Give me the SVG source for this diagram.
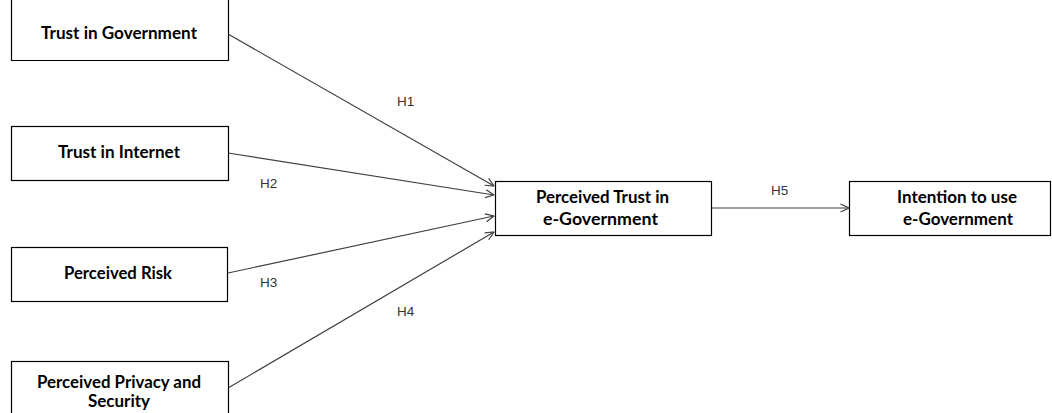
<svg xmlns="http://www.w3.org/2000/svg" width="1052" height="413" viewBox="0 0 1052 413">
<style>
.box{fill:#fff;stroke:#000;stroke-width:1.2}
.lbl{font-family:Lato,"Liberation Sans",sans-serif;font-weight:bold;font-size:16.5px;fill:#000;text-anchor:middle}
.h{font-family:"Liberation Sans",Arial,sans-serif;font-size:13.5px;fill:#333;text-anchor:start}
.con{stroke:#404040;stroke-width:1.2;fill:none;marker-end:url(#arr)}
</style>
<defs>
<marker id="arr" viewBox="0 0 10 10" refX="9.5" refY="5" markerWidth="10" markerHeight="10" markerUnits="userSpaceOnUse" orient="auto">
<path d="M1,1 L9.5,5 L1,9" fill="none" stroke="#404040" stroke-width="1.2"/>
</marker>
</defs>
<rect width="1052" height="413" fill="#fff"/>
<g id="connectors">
<line class="con" x1="228" y1="34" x2="494" y2="186"/>
<line class="con" x1="228" y1="153" x2="494" y2="195"/>
<line class="con" x1="228" y1="273" x2="494" y2="216"/>
<line class="con" x1="228" y1="388" x2="494" y2="232"/>
<line class="con" x1="711" y1="208" x2="849" y2="208"/>
<text class="h" x="397" y="106">H1</text>
<text class="h" x="260" y="188">H2</text>
<text class="h" x="260" y="287">H3</text>
<text class="h" x="397" y="316">H4</text>
<text class="h" x="771" y="195">H5</text>
</g>
<g id="trust-government">
<path class="box" d="M11.5,0 V60.5 H228.5 V0"/>
<text class="lbl" x="119" y="39" textLength="156" lengthAdjust="spacingAndGlyphs">Trust in Government</text>
</g>
<g id="trust-internet">
<rect class="box" x="11.5" y="126.5" width="217" height="54"/>
<text class="lbl" x="119" y="158" textLength="122" lengthAdjust="spacingAndGlyphs">Trust in Internet</text>
</g>
<g id="perceived-risk">
<rect class="box" x="11.5" y="247.5" width="216" height="54"/>
<text class="lbl" x="118" y="279" textLength="108" lengthAdjust="spacingAndGlyphs">Perceived Risk</text>
</g>
<g id="perceived-privacy">
<rect class="box" x="11.5" y="361.5" width="217" height="60"/>
<text class="lbl" x="119" y="388" textLength="164" lengthAdjust="spacingAndGlyphs">Perceived Privacy and</text>
<text class="lbl" x="119" y="407" textLength="62" lengthAdjust="spacingAndGlyphs">Security</text>
</g>
<g id="perceived-trust-egov">
<rect class="box" x="495.5" y="181.5" width="216" height="54"/>
<text class="lbl" x="602.5" y="203" textLength="133" lengthAdjust="spacingAndGlyphs">Perceived Trust in</text>
<text class="lbl" x="600.5" y="225" textLength="115" lengthAdjust="spacingAndGlyphs">e-Government</text>
</g>
<g id="intention">
<rect class="box" x="849.5" y="181.5" width="201" height="54"/>
<text class="lbl" x="957" y="203" textLength="120" lengthAdjust="spacingAndGlyphs">Intention to use</text>
<text class="lbl" x="958" y="225" textLength="110" lengthAdjust="spacingAndGlyphs">e-Government</text>
</g>
</svg>
